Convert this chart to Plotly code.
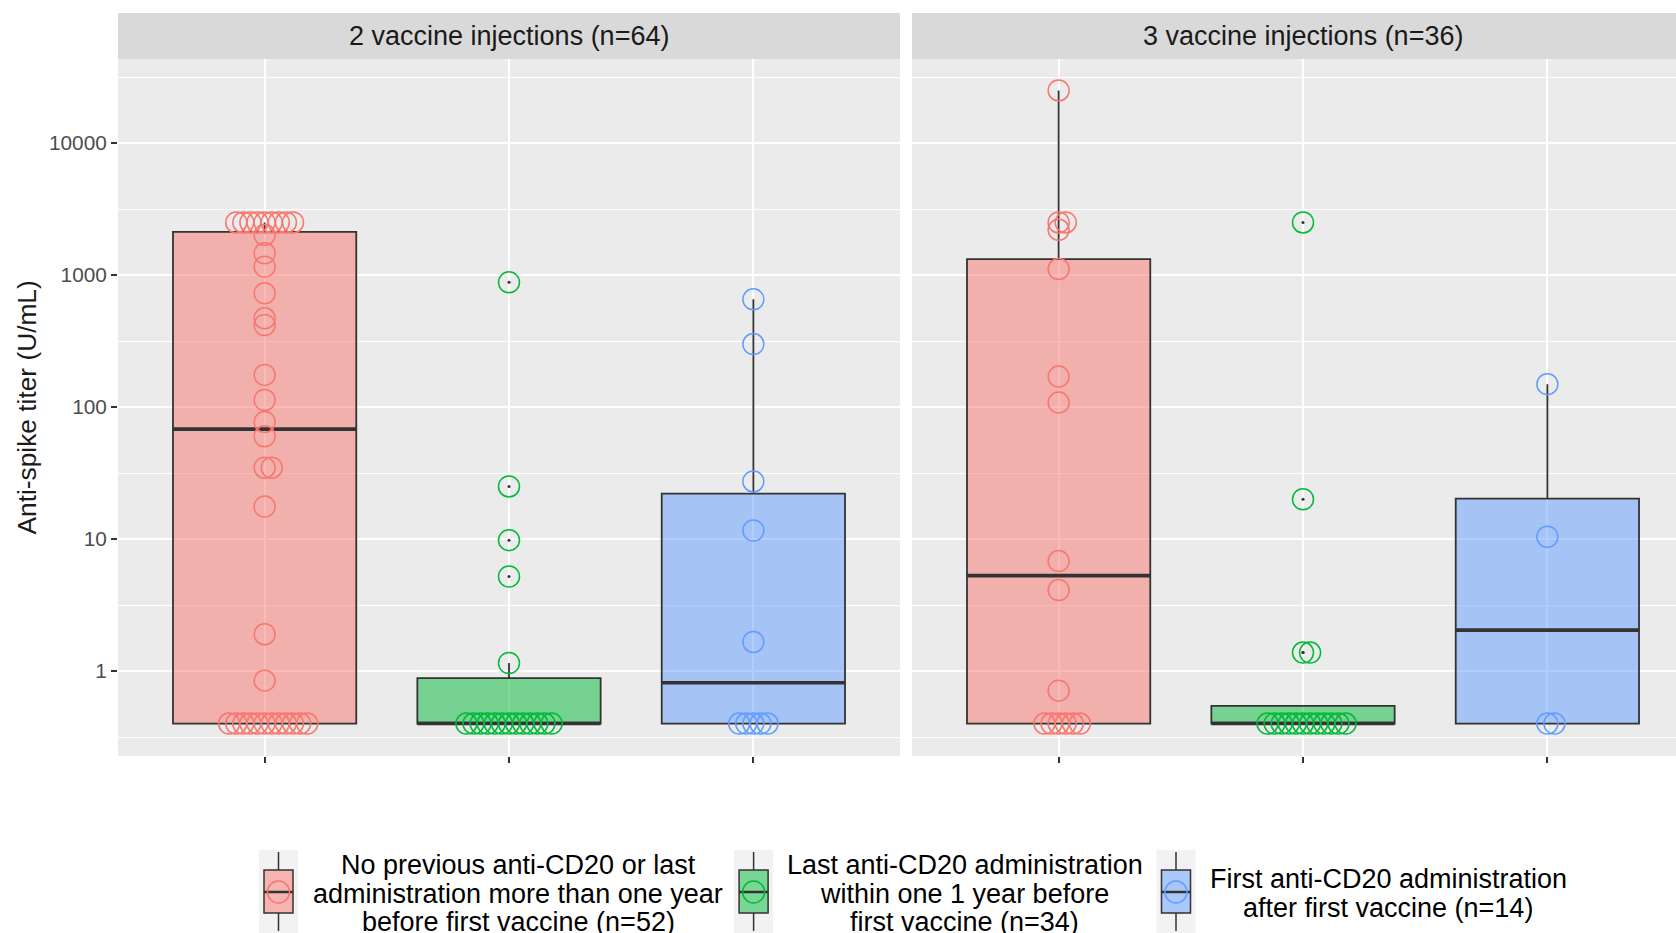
import numpy as np
import plotly.graph_objects as go

# ---------------- data ----------------
panels = ["2 vaccine injections (n=64)", "3 vaccine injections (n=36)"]
groups = [
    "No previous anti-CD20 or last<br>administration more than one year<br>before first vaccine (n=52)",
    "Last anti-CD20 administration<br>within one 1 year before<br>first vaccine (n=34)",
    "First anti-CD20 administration<br>after first vaccine (n=14)",
]
tick_vals = [1, 10, 100, 1000, 10000]
tick_text = ["1", "10", "100", "1000", "10000"]
y_title = "Anti-spike titer (U/mL)"

red_2 = [2500, 2500, 2500, 2500, 2500, 2500, 2500, 2500, 2500,
         2010, 1460, 1157, 727, 470, 418, 175, 113, 77, 60, 34.7, 34.7, 17.6, 1.9, 0.845,
         0.4, 0.4, 0.4, 0.4, 0.4, 0.4, 0.4, 0.4, 0.4, 0.4, 0.4, 0.4]
green_2 = [880, 25, 9.8, 5.2, 1.15,
           0.4, 0.4, 0.4, 0.4, 0.4, 0.4, 0.4, 0.4, 0.4, 0.4, 0.4, 0.4, 0.4]
blue_2 = [654, 300, 27.3, 11.6, 1.66, 0.4, 0.4, 0.4, 0.4, 0.4]

red_3 = [25000, 2500, 2500, 2200, 1110, 170, 108, 6.8, 4.1, 0.71,
         0.4, 0.4, 0.4, 0.4, 0.4, 0.4]
green_3 = [2500, 20, 1.38, 1.38,
           0.4, 0.4, 0.4, 0.4, 0.4, 0.4, 0.4, 0.4, 0.4, 0.4, 0.4, 0.4]
blue_3 = [149, 10.4, 0.4, 0.4]

series = [[red_2, green_2, blue_2], [red_3, green_3, blue_3]]

# ---------------- style ----------------
COLORS = ["#F8766D", "#00BA38", "#619CFF"]
FILLS = ["rgba(248,118,109,0.5)", "rgba(0,186,56,0.5)", "rgba(97,156,255,0.5)"]
FONT = "Liberation Sans, Arial, Helvetica, sans-serif"
DARK = "#333333"

W, H = 1676, 933
ML, MR, MT, MB = 118, 0, 59, 177
PW = W - ML - MR
PH = H - MT - MB
left_end = (900 - ML) / PW
right_start = (912 - ML) / PW
px_per_unit = (900 - ML) / 3.2
right_range = [0.4, 0.4 + (W - 912) / px_per_unit]
STEP = 7.1 / px_per_unit   # beeswarm spacing between tied points


def xp(px):
    return (px - ML) / PW


def yp(py):
    return (MT + PH - py) / PH


def box_stats(vals):
    lv = np.log10(np.asarray(vals, dtype=float))
    q1, med, q3 = np.quantile(lv, [0.25, 0.5, 0.75])
    iqr = q3 - q1
    lo, hi = q1 - 1.5 * iqr, q3 + 1.5 * iqr
    inside = lv[(lv >= lo - 1e-12) & (lv <= hi + 1e-12)]
    out = lv[(lv < lo - 1e-12) | (lv > hi + 1e-12)]
    return (10 ** q1, 10 ** med, 10 ** q3, 10 ** inside.min(), 10 ** inside.max(), 10 ** out)


def swarm_x(vals, pos):
    xs = []
    counts = {}
    totals = {}
    for v in vals:
        totals[v] = totals.get(v, 0) + 1
    for v in vals:
        i = counts.get(v, 0)
        counts[v] = i + 1
        k = i - (totals[v] - 1) // 2
        xs.append(pos + k * STEP)
    return xs


fig = go.Figure()
for p, panel in enumerate(series):
    xa = "x" if p == 0 else "x2"
    ya = "y" if p == 0 else "y2"
    for g, vals in enumerate(panel):
        pos = g + 1
        q1, med, q3, wlo, whi, outl = box_stats(vals)
        fig.add_trace(go.Box(
            x=[pos], q1=[q1], median=[med], q3=[q3], lowerfence=[wlo], upperfence=[whi],
            width=0.75, whiskerwidth=0, fillcolor=FILLS[g],
            line=dict(color=DARK, width=1.8), boxpoints=False,
            xaxis=xa, yaxis=ya, showlegend=False, hoverinfo="skip"))
        fig.add_trace(go.Scatter(
            x=[pos - 0.375, pos + 0.375], y=[med, med], mode="lines",
            line=dict(color=DARK, width=3.6), xaxis=xa, yaxis=ya,
            showlegend=False, hoverinfo="skip"))
        fig.add_trace(go.Scatter(
            x=[pos] * len(outl), y=list(outl), mode="markers",
            marker=dict(size=3, color=DARK), xaxis=xa, yaxis=ya,
            showlegend=False, hoverinfo="skip"))
        fig.add_trace(go.Scatter(
            x=swarm_x(vals, pos), y=vals, mode="markers",
            marker=dict(symbol="circle-open", size=21, color=COLORS[g], line=dict(width=1.5)),
            xaxis=xa, yaxis=ya, showlegend=False))

log_lo = -(756 - 671) / 132
log_hi = 4 + (143 - 59) / 132
minor_vals = [10 ** (e + 0.5) for e in range(-1, 5)]

common_x = dict(tickvals=[1, 2, 3], ticktext=["", "", ""], ticks="outside", ticklen=6,
                tickwidth=2, tickcolor=DARK, showgrid=True, gridcolor="white", gridwidth=2,
                zeroline=False, showline=False, automargin=False)
common_y = dict(type="log", range=[log_lo, log_hi], tickvals=tick_vals, ticktext=tick_text,
                showgrid=True, gridcolor="white", gridwidth=2, zeroline=False, showline=False,
                minor=dict(tickvals=minor_vals, showgrid=True, gridcolor="white", gridwidth=1, ticklen=0),
                automargin=False)

fig.update_layout(
    width=W, height=H,
    margin=dict(l=ML, r=MR, t=MT, b=MB),
    paper_bgcolor="white", plot_bgcolor="#EBEBEB",
    font=dict(family=FONT, color="#1A1A1A"),
    showlegend=False,
    xaxis=dict(domain=[0, left_end], range=[0.4, 3.6], anchor="y", **common_x),
    xaxis2=dict(domain=[right_start, 1], range=right_range, anchor="y2", **common_x),
    yaxis=dict(anchor="x", ticks="outside", ticklen=6, tickwidth=1.8, tickcolor=DARK,
               tickfont=dict(size=20.8, color="#4D4D4D", family=FONT), **common_y),
    yaxis2=dict(anchor="x2", matches="y", showticklabels=False, ticks="", **common_y),
)

shapes = []
annotations = []
# facet strips
for p, (x0, x1) in enumerate([(0, left_end), (right_start, 1)]):
    shapes.append(dict(type="rect", xref="paper", yref="paper", x0=x0, x1=x1,
                       y0=yp(59), y1=yp(13), fillcolor="#D9D9D9", line=dict(width=0), layer="below"))
    annotations.append(dict(text=panels[p], xref="x" if p == 0 else "x2", yref="paper",
                            x=2, y=yp(36), showarrow=False, xanchor="center", yanchor="middle",
                            font=dict(size=27, color="#1A1A1A", family=FONT)))

# y-axis title
annotations.append(dict(text=y_title, xref="paper", yref="paper", x=xp(26), y=0.5,
                        textangle=-90, showarrow=False, xanchor="center", yanchor="middle",
                        font=dict(size=26.3, color="#1A1A1A", family=FONT)))

# custom legend (bottom)
key_cx = [278.5, 753.6, 1176]
text_cx = [518, 965, 1388]
for g in range(3):
    kx = key_cx[g]
    shapes.append(dict(type="rect", xref="paper", yref="paper", x0=xp(kx - 19.5), x1=xp(kx + 19.5),
                       y0=yp(945), y1=yp(850), fillcolor="#F2F2F2", line=dict(width=0)))
    shapes.append(dict(type="line", xref="paper", yref="paper", x0=xp(kx), x1=xp(kx),
                       y0=yp(870), y1=yp(852), line=dict(color=DARK, width=1.5)))
    shapes.append(dict(type="line", xref="paper", yref="paper", x0=xp(kx), x1=xp(kx),
                       y0=yp(931), y1=yp(913), line=dict(color=DARK, width=1.5)))
    shapes.append(dict(type="rect", xref="paper", yref="paper", x0=xp(kx - 14.5), x1=xp(kx + 14.5),
                       y0=yp(913), y1=yp(870), fillcolor=FILLS[g], line=dict(color=DARK, width=1.5)))
    shapes.append(dict(type="line", xref="paper", yref="paper", x0=xp(kx - 14.5), x1=xp(kx + 14.5),
                       y0=yp(892), y1=yp(892), line=dict(color=DARK, width=2.5)))
    shapes.append(dict(type="circle", xref="paper", yref="paper", x0=xp(kx - 11), x1=xp(kx + 11),
                       y0=yp(903), y1=yp(881), line=dict(color=COLORS[g], width=1.5)))
    lines = groups[g].split("<br>")
    n = len(lines)
    for i, ln in enumerate(lines):
        cy = 893.5 + (i - (n - 1) / 2) * 28.9
        annotations.append(dict(text=ln, xref="paper", yref="paper", x=xp(text_cx[g]), y=yp(cy),
                                showarrow=False, xanchor="center", yanchor="middle",
                                font=dict(size=27, color="#000000", family=FONT)))

fig.update_layout(shapes=shapes, annotations=annotations)
fig.write_html(
    "out.html",
    config={"displayModeBar": False},
    post_script="document.body.style.margin='0';document.body.style.overflow='hidden';",
)
